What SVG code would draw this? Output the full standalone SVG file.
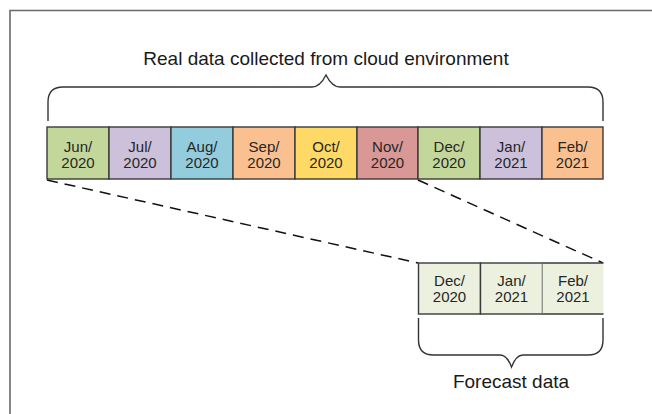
<svg xmlns="http://www.w3.org/2000/svg" width="652" height="414" viewBox="0 0 652 414">
<style>
.frame{fill:none;stroke:#6a6a6a;stroke-width:1.6}
.box{stroke:#3a3a3a;stroke-width:1.4}
.t{font-family:"Liberation Sans",Arial,sans-serif;font-size:15px;fill:#262626;text-anchor:middle}
.lbl{font-family:"Liberation Sans",Arial,sans-serif;font-size:19px;fill:#1a1a1a;text-anchor:middle}
.brace{fill:none;stroke:#333;stroke-width:1.4}
.dash{fill:none;stroke:#111;stroke-width:1.5;stroke-dasharray:11 7}
.g{fill:#c4d79b}.p{fill:#ccc0da}.b{fill:#93cddd}.o{fill:#fac090}.y{fill:#ffd966}.r{fill:#d99795}.f{fill:#ebf1de}
</style>
<rect width="652" height="414" fill="#fff"/>
<path class="frame" d="M10,414 V10.5 H652"/>
<text class="lbl" x="326" y="65">Real data collected from cloud environment</text>
<path class="brace" d="M48,121 V102 Q48,87 63,87 H312 Q320,87 326,75 Q332,87 340,87 H588 Q603,87 603,102 V121"/>
<g id="connectors">
<line class="dash" x1="47" y1="180" x2="418" y2="263"/>
<line class="dash" x1="418" y1="180" x2="603" y2="263"/>
</g>
<g id="jun2020"><rect class="box g" x="47" y="127" width="62" height="52"/><text class="t" x="78" y="151.5">Jun/</text><text class="t" x="78" y="167.5">2020</text></g>
<g id="jul2020"><rect class="box p" x="109" y="127" width="62" height="52"/><text class="t" x="140" y="151.5">Jul/</text><text class="t" x="140" y="167.5">2020</text></g>
<g id="aug2020"><rect class="box b" x="171" y="127" width="62" height="52"/><text class="t" x="202" y="151.5">Aug/</text><text class="t" x="202" y="167.5">2020</text></g>
<g id="sep2020"><rect class="box o" x="233" y="127" width="62" height="52"/><text class="t" x="264" y="151.5">Sep/</text><text class="t" x="264" y="167.5">2020</text></g>
<g id="oct2020"><rect class="box y" x="295" y="127" width="62" height="52"/><text class="t" x="326" y="151.5">Oct/</text><text class="t" x="326" y="167.5">2020</text></g>
<g id="nov2020"><rect class="box r" x="357" y="127" width="61" height="52"/><text class="t" x="387.5" y="151.5">Nov/</text><text class="t" x="387.5" y="167.5">2020</text></g>
<g id="dec2020"><rect class="box g" x="418" y="127" width="62" height="52"/><text class="t" x="449" y="151.5">Dec/</text><text class="t" x="449" y="167.5">2020</text></g>
<g id="jan2021"><rect class="box p" x="480" y="127" width="62" height="52"/><text class="t" x="511" y="151.5">Jan/</text><text class="t" x="511" y="167.5">2021</text></g>
<g id="feb2021"><rect class="box o" x="542" y="127" width="61" height="52"/><text class="t" x="572.5" y="151.5">Feb/</text><text class="t" x="572.5" y="167.5">2021</text></g>
<g id="fc-dec2020"><rect class="box f" x="418.5" y="263" width="62" height="51"/><text class="t" x="449.5" y="286">Dec/</text><text class="t" x="449.5" y="302">2020</text></g>
<g id="fc-jan2021"><rect class="box f" x="480.5" y="263" width="62" height="51"/><text class="t" x="511.5" y="286">Jan/</text><text class="t" x="511.5" y="302">2021</text></g>
<g id="fc-feb2021"><rect class="f" x="542.5" y="263" width="61" height="51"/><path class="box" fill="none" d="M542.5,263 H603.5 M542.5,314 H603.5"/><text class="t" x="573" y="286">Feb/</text><text class="t" x="573" y="302">2021</text></g>
<path class="brace" d="M418.5,318 V340 Q418.5,355 433.5,355 H500 Q507,355 511.5,367 Q516,355 523,355 H588 Q603,355 603,340 V318"/>
<text class="lbl" x="511" y="388">Forecast data</text>
</svg>
